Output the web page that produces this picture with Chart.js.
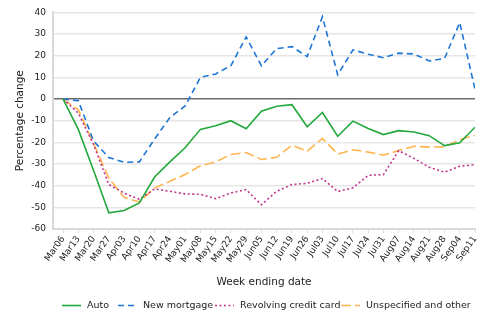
<!DOCTYPE html>
<html>
<head>
<meta charset="utf-8">
<script src="https://cdn.jsdelivr.net/npm/chart.js@4"></script>
<style>
    html, body { margin: 0; padding: 0; background: #fff; }
    #wrap { width: 500px; height: 332px; }
</style>
</head>
<body>
<div id="wrap"><canvas id="myChart" width="500" height="332"></canvas></div>
<script>
let semaines = ["Mar06", "Mar13", "Mar20", "Mar27", "Apr03", "Apr10", "Apr17", "Apr24", "May01", "May08",
    "May15", "May22", "May29", "Jun05", "Jun12", "Jun19", "Jun26", "Jul03", "Jul10", "Jul17",
    "Jul24", "Jul31", "Aug07", "Aug14", "Aug21", "Aug28", "Sep04", "Sep11"];

let auto = [0, -14, -33, -52.5, -51.5, -48, -36, -29, -22.5, -14, -12.3, -10, -13.7, -5.6, -3.3, -2.6, -12.8, -6.2, -17.2,
    -10.2, -13.6, -16.4, -14.6, -15.2, -16.9, -21.5, -20.2, -13];
let new_mortgage = [0, -0.8, -19.4, -27, -29.2, -29, -18.5, -8.5, -3.2, 10, 11.6, 15.4, 28.7, 15.3, 23.3, 24.2, 19.6, 38,
    11.2, 22.7, 20.7, 19.1, 21.2, 20.8, 17.6, 18.7, 35.3, 4.5];
let revolving = [0, -6.5, -21, -39.5, -43.4, -46.3, -41.5, -42.6, -43.8, -44, -46, -43.4, -41.8, -48.8, -42.6, -39.5,
    -38.9, -36.7, -42.7, -41, -35.2, -34.9, -23.8, -27.4, -31.5, -33.8, -31, -30.3];
let unspecified = [0, -5, -20.5, -36.5, -45.4, -47.5, -41, -38, -34.8, -30.8, -29, -25.6, -24.7, -27.9, -26.9, -21.3,
    -24.1, -18.2, -25.4, -23.4, -24.5, -25.9, -23.8, -21.8, -22.2, -22.1, -18.7, -16.8];

let y_ticks = [-60, -50, -40, -30, -20, -10, 0, 10, 20, 30, 40];

let series = [
    { label: "Auto", data: auto, color: "#22a83c", dash: [] },
    { label: "New mortgage", data: new_mortgage, color: "#1d76d6", dash: [6, 4] },
    { label: "Revolving credit card", data: revolving, color: "#c2338e", dash: [2, 2.5] },
    { label: "Unspecified and other", data: unspecified, color: "#ffb54f", dash: [10, 4] }
];

const police = "'DejaVu Sans', sans-serif";

// legende dessinee a la main pour garder les pointilles
const legende = {
    id: 'legende',
    afterDraw(chart) {
        const ctx = chart.ctx;
        const y = 305.5;
        let x_lignes = [62, 118, 215, 341];
        ctx.save();
        ctx.font = "9.5px " + police;
        ctx.textBaseline = "middle";
        series.forEach((s, i) => {
            ctx.strokeStyle = s.color;
            ctx.lineWidth = 1.6;
            ctx.setLineDash(s.dash);
            ctx.beginPath();
            ctx.moveTo(x_lignes[i], y);
            ctx.lineTo(x_lignes[i] + 19, y);
            ctx.stroke();
            ctx.setLineDash([]);
            ctx.fillStyle = "#222";
            ctx.fillText(s.label, x_lignes[i] + 25, y);
        });
        ctx.restore();
    }
};

let my_chart = new Chart(document.getElementById('myChart'), {
    type: 'line',
    data: {
        datasets: series.map((s) => {
            return {
                label: s.label,
                data: s.data.map((v, i) => ({ x: i, y: v })),
                borderColor: s.color,
                backgroundColor: s.color,
                borderDash: s.dash,
                borderWidth: 1.6,
                pointRadius: 0,
                tension: 0,
                fill: false
            };
        })
    },
    options: {
        responsive: false,
        animation: false,
        layout: { padding: { left: 0, right: 25, top: 6, bottom: 39 } },
        plugins: {
            legend: { display: false },
            tooltip: { enabled: false }
        },
        scales: {
            x: {
                type: 'linear',
                min: -0.66,
                max: semaines.length - 1,
                afterBuildTicks: (scale) => {
                    scale.ticks = semaines.map((s, i) => ({ value: i }));
                },
                afterFit: (scale) => { scale.height = 64; },
                grid: { drawOnChartArea: false, drawTicks: true, tickLength: 4, color: "#dddddd" },
                border: { color: "#d9d9d9", width: 2 },
                ticks: {
                    autoSkip: false,
                    maxRotation: 55,
                    minRotation: 55,
                    padding: 1,
                    color: "#222",
                    font: { family: police, size: 9 },
                    callback: (v) => semaines[v] !== undefined ? semaines[v] : ""
                },
                title: {
                    display: true,
                    text: "Week ending date",
                    color: "#222",
                    font: { family: police, size: 10.5 },
                    padding: 4
                }
            },
            y: {
                min: -60,
                max: 40,
                afterBuildTicks: (scale) => {
                    scale.ticks = y_ticks.map((v) => ({ value: v }));
                },
                afterFit: (scale) => { scale.width = 53; },
                grid: {
                    drawTicks: false,
                    lineWidth: 1.5,
                    color: (c) => c.tick && c.tick.value === 0 ? "#6b6b6b" : "#e6e6e6"
                },
                border: { color: "#d9d9d9", width: 2 },
                ticks: {
                    padding: 7,
                    color: "#222",
                    font: { family: police, size: 9 }
                },
                title: {
                    display: true,
                    text: "Percentage change",
                    color: "#222",
                    font: { family: police, size: 10.5 },
                    padding: 14
                }
            }
        }
    },
    plugins: [legende]
});
</script>
</body>
</html>
